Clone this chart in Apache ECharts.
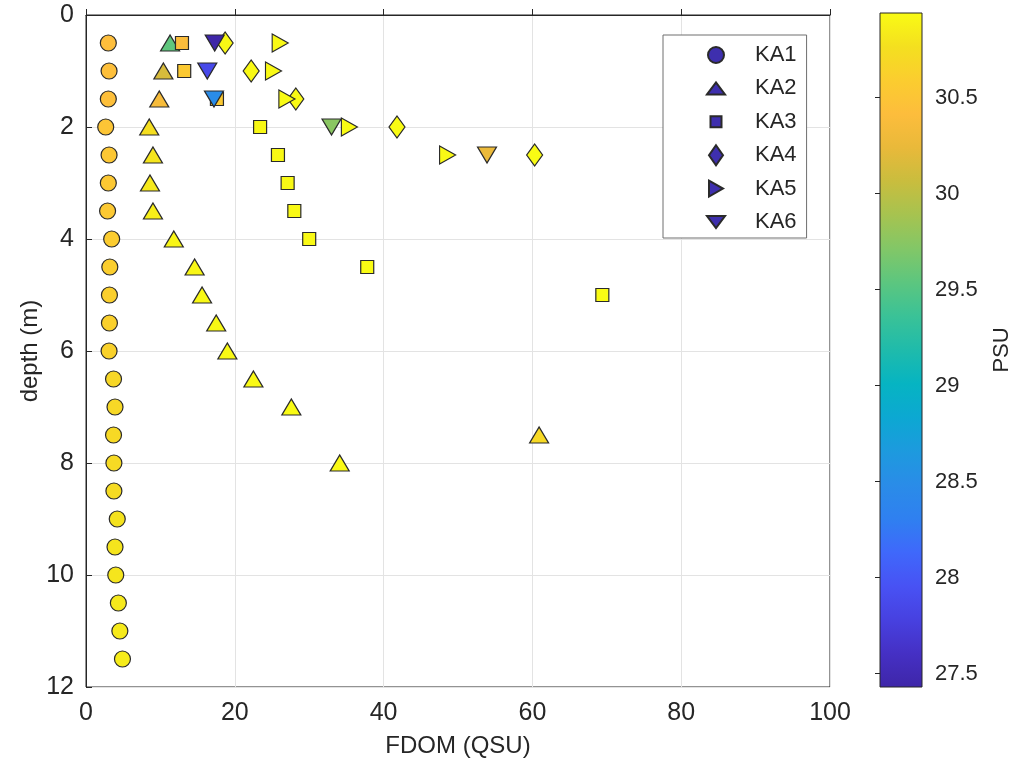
<!DOCTYPE html>
<html><head><meta charset="utf-8">
<script src="https://cdn.jsdelivr.net/npm/echarts@6/dist/echarts.min.js"></script>
<style>html,body{margin:0;padding:0;background:#fff}#c{width:1014px;height:772px}</style>
</head><body><div id="c"></div>
<script>
// ---- data ----
const seriesNames = ['KA1', 'KA2', 'KA3', 'KA4', 'KA5', 'KA6'];
const depthKA1 = [0.5,1,1.5,2,2.5,3,3.5,4,4.5,5,5.5,6,6.5,7,7.5,8,8.5,9,9.5,10,10.5,11,11.5];
const fdomKA1  = [3.0,3.1,3.0,2.65,3.1,3.0,2.9,3.45,3.2,3.15,3.15,3.1,3.7,3.9,3.7,3.75,3.75,4.2,3.9,4.0,4.35,4.55,4.9];
const psuKA1   = [30.42,30.43,30.44,30.5,30.52,30.53,30.54,30.58,30.6,30.61,30.62,30.63,30.68,30.69,30.7,30.71,30.72,30.78,30.79,30.8,30.82,30.83,30.84];
const depthKA2 = [0.5,1,1.5,2,2.5,3,3.5,4,4.5,5,5.5,6,6.5,7,7.5,8];
const fdomKA2  = [11.3,10.4,9.85,8.5,9.0,8.6,9.0,11.8,14.6,15.6,17.5,19.0,22.5,27.6,60.9,34.1];
const psuKA2   = [29.55,30.14,30.36,30.75,30.8,30.82,30.86,30.9,30.91,30.92,30.92,30.93,30.93,30.94,30.7,30.93];
const depthKA3 = [0.5,1,1.5,2,2.5,3,3.5,4,4.5,5];
const fdomKA3  = [12.9,13.2,17.6,23.4,25.8,27.1,28.0,30.0,37.8,69.4];
const psuKA3   = [30.4,30.55,30.55,30.92,30.92,30.93,30.93,30.93,30.94,30.94];
const depthKA4 = [0.5,1,1.5,2,2.5];
const fdomKA4  = [18.7,22.2,28.2,41.8,60.3];
const psuKA4   = [30.92,30.93,30.93,30.94,30.94];
const depthKA5 = [0.5,1,1.5,2,2.5];
const fdomKA5  = [26.1,25.2,27.0,35.4,48.6];
const psuKA5   = [30.93,30.93,30.94,30.94,30.93];
const depthKA6 = [0.5,1,1.5,2,2.5];
const fdomKA6  = [17.3,16.3,17.2,33.0,53.9];
const psuKA6   = [27.43,27.86,28.48,29.75,30.26];
const xTicks = [0,20,40,60,80,100];
const yTicks = [0,2,4,6,8,10,12];
const psuTicks = [27.5,28,28.5,29,29.5,30,30.5];
const psuMin = 27.43, psuMax = 30.94;

// ---- style ----
const PARULA = ['#3e26a8','#4530c4','#4741e0','#4852f4','#3f68fb','#2f80f0','#2a8ce8','#1d9ade','#0ca8d2','#06b4c2',
  '#1fbbab','#3ac297','#5cc67f','#82c767','#a6c350','#c9bd3e','#e9b93a','#fdbd3c','#fbcd2f','#f4e01f','#f9fb14'];
const FONT = "'Liberation Sans', Arial, Helvetica, sans-serif";
const TXT = '#262626';

const allDepth = [depthKA1, depthKA2, depthKA3, depthKA4, depthKA5, depthKA6];
const allFdom = [fdomKA1, fdomKA2, fdomKA3, fdomKA4, fdomKA5, fdomKA6];
const allPsu = [psuKA1, psuKA2, psuKA3, psuKA4, psuKA5, psuKA6];
const symbols = ['circle','triangle','rect','diamond','triangle','triangle'];
const sizes = [16, [19,16], 13, [16,22], [18,16], [19,16]];
const rotates = [0, 0, 0, 0, -90, 180];
const legendIcons = [
  'path://M0 0M20 20M2 10A8 8 0 1 1 18 10A8 8 0 1 1 2 10Z',
  'path://M0 0M20 20M1 16L10 4L19 16Z',
  'path://M0 0M20 20M4.5 4.5L15.5 4.5L15.5 15.5L4.5 15.5Z',
  'path://M0 0M20 20M10 0L17 10L10 20L3 10Z',
  'path://M0 0M20 20M3 2L17 10L3 18Z',
  'path://M0 0M20 20M1 4L19 4L10 16Z'
];

const scatterSeries = seriesNames.map((name, i) => ({
  name, type: 'scatter', xAxisIndex: 0, yAxisIndex: 0,
  symbol: symbols[i], symbolSize: sizes[i], symbolRotate: rotates[i],
  itemStyle: { color: '#3e2fae', borderColor: '#2a2a2a', borderWidth: 1.2, opacity: 1 },
  emphasis: { disabled: true },
  data: allFdom[i].map((v, k) => [v, allDepth[i][k], allPsu[i][k]])
}));

const GTOP = 15, GH = 672;

const option = {
  animation: false,
  backgroundColor: '#fff',
  textStyle: { fontFamily: FONT, color: TXT },
  grid: [
    { left: 86, top: GTOP, width: 744, height: GH, show: true, borderColor: TXT, borderWidth: 1, backgroundColor: 'transparent' },
    { left: 880, top: GTOP - 2, width: 42, height: GH + 2 }
  ],
  xAxis: [
    { gridIndex: 0, type: 'value', min: 0, max: 100, interval: 20,
      name: 'FDOM (QSU)', nameLocation: 'middle', nameGap: 47,
      nameTextStyle: { fontSize: 24, color: TXT, fontFamily: FONT },
      axisLine: { show: true, lineStyle: { color: TXT } },
      axisTick: { show: true, inside: true, length: 6, lineStyle: { color: TXT } },
      axisLabel: { fontSize: 25, color: TXT, margin: 14, fontFamily: FONT },
      splitLine: { show: true, lineStyle: { color: '#e3e3e3', width: 1 } } },
    { gridIndex: 1, type: 'value', min: 0, max: 1, show: false }
  ],
  yAxis: [
    { gridIndex: 0, type: 'value', inverse: true, min: 0, max: 12, interval: 2,
      name: 'depth (m)', nameLocation: 'middle', nameGap: 44, nameRotate: 90, nameMoveOverlap: false,
      nameTextStyle: { fontSize: 24, color: TXT, fontFamily: FONT },
      axisLine: { show: true, lineStyle: { color: TXT } },
      axisTick: { show: true, inside: true, length: 6, lineStyle: { color: TXT } },
      axisLabel: { fontSize: 25, color: TXT, margin: 12, fontFamily: FONT },
      splitLine: { show: true, lineStyle: { color: '#e3e3e3', width: 1 } } },
    { gridIndex: 1, type: 'value', min: psuMin, max: psuMax, position: 'right',
      name: 'PSU', nameLocation: 'middle', nameGap: 69, nameRotate: 90,
      nameTextStyle: { fontSize: 22, color: TXT, fontFamily: FONT },
      axisLine: { show: false },
      axisTick: { show: true, inside: true, length: 5, customValues: psuTicks, lineStyle: { color: TXT } },
      axisLabel: { fontSize: 22, color: TXT, margin: 13, customValues: psuTicks, fontFamily: FONT },
      splitLine: { show: false } }
  ],
  visualMap: {
    type: 'continuous', show: false, seriesIndex: [0,1,2,3,4,5], dimension: 2,
    min: psuMin, max: psuMax, inRange: { color: PARULA }
  },
  legend: {
    orient: 'vertical', left: 663, top: 35,
    padding: [9, 10, 5, 42],
    itemWidth: 20, itemHeight: 20, itemGap: 11.4,
    borderColor: '#6e6e6e', borderWidth: 1, backgroundColor: '#fff',
    selectedMode: false,
    data: seriesNames.map((n, i) => ({ name: n, icon: legendIcons[i] })),
    formatter: n => '{s| }{t|' + n + '}',
    textStyle: { fontSize: 22, color: TXT, fontFamily: FONT, lineHeight: 20,
      rich: { s: { width: 24, fontSize: 22, lineHeight: 20 }, t: { fontSize: 22, lineHeight: 20, color: TXT, fontFamily: FONT } } }
  },
  series: scatterSeries.concat([{
    type: 'custom', xAxisIndex: 1, yAxisIndex: 1, silent: true,
    encode: { x: 0, y: [1, 2] },
    data: [[0, psuMin, psuMax]],
    renderItem: (params, api) => {
      const p0 = api.coord([0, api.value(2)]);
      const p1 = api.coord([1, api.value(1)]);
      const stops = PARULA.map((c, k) => ({ offset: 1 - k / (PARULA.length - 1), color: c }))
        .sort((a, b) => a.offset - b.offset);
      return { type: 'rect',
        shape: { x: p0[0], y: p0[1], width: p1[0] - p0[0], height: p1[1] - p0[1] },
        style: { fill: { type: 'linear', x: 0, y: 0, x2: 0, y2: 1, colorStops: stops }, stroke: TXT, lineWidth: 1 } };
    }
  }])
};
const chart = echarts.init(document.getElementById('c'), null, { renderer: 'canvas' });
chart.setOption(option);
</script>
</body></html>
